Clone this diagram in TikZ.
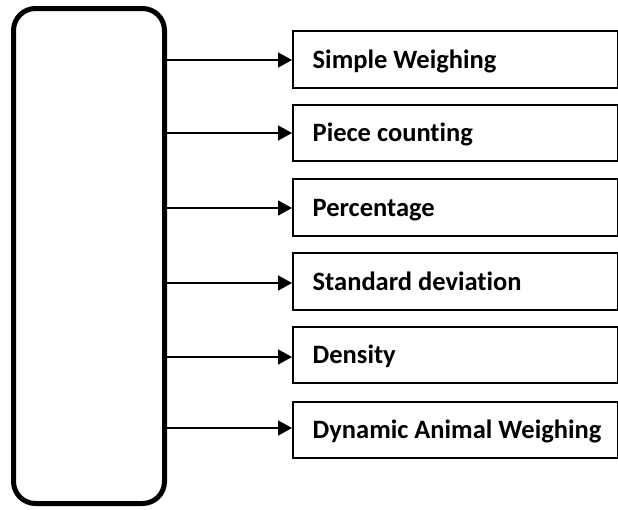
\documentclass[tikz,border=0pt]{standalone}
\usepackage{fontspec}
\setmainfont{Carlito}[Ligatures=NoCommon]
\usetikzlibrary{arrows.meta}
\begin{document}
\begin{tikzpicture}[x=1pt,y=-1pt,
  optbox/.style={draw=black,line width=1.6pt,fill=white,minimum width=325pt,minimum height=56.5pt,anchor=west,inner sep=0pt},
  optlabel/.style={anchor=base west,inner sep=0pt,font=\fontsize{26.5}{30}\selectfont\bfseries},
  conn/.style={line width=1.6pt,-{Triangle[length=14pt,width=15pt]}}]
\useasboundingbox (0,0) rectangle (618,509);
\node[draw=black,line width=5pt,rounded corners=22pt,minimum width=151pt,minimum height=495pt,inner sep=0pt] (main) at (89,256) {};
\foreach \i/\cy/\ay/\txt in {1/59.5/60/Simple Weighing,2/133/133/Piece counting,3/207.5/208/Percentage,4/281.5/283/Standard deviation,5/355/357/Density,6/430/428/Dynamic Animal Weighing}{
  \node[optbox] (b\i) at (292,\cy) {};
  \node[optlabel] (t\i) at (312.5,\cy+8.5) {\txt};
  \coordinate (s\i) at (main.east |- 0,\ay);
  \draw[conn] (s\i) -- (b\i.west |- s\i);
}
\end{tikzpicture}
\end{document}
